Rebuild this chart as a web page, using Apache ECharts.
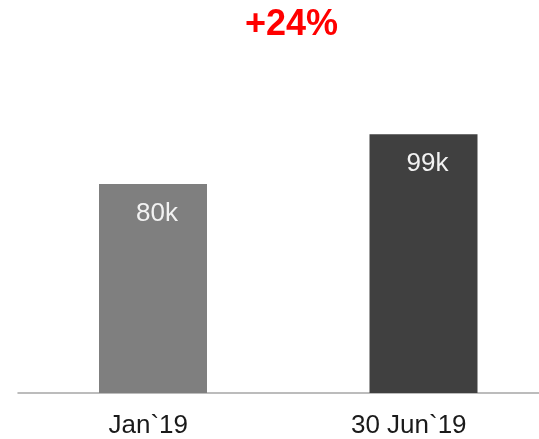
<!DOCTYPE html>
<html>
<head>
<meta charset="utf-8">
<script src="https://cdn.jsdelivr.net/npm/echarts@6/dist/echarts.min.js"></script>
<style>
  html, body { margin: 0; padding: 0; background: #ffffff; }
  #chart { width: 539px; height: 439px; }
</style>
</head>
<body>
<div id="chart"></div>
<script>
// Period labels and values (thousands)
var categories = ['Jan`19', '30 Jun`19'];
var values = [80, 99];
var barColors = ['#7f7f7f', '#404040'];
var growthLabel = '+24%';

var chart = echarts.init(document.getElementById('chart'), null, { renderer: 'canvas' });

var fontFamily = '"Liberation Sans", Arial, sans-serif';

chart.setOption({
  animation: false,
  backgroundColor: '#ffffff',
  title: {
    text: growthLabel,
    left: 245,
    top: 7,
    padding: 0,
    textStyle: { color: '#ff0000', fontSize: 36, fontWeight: 'bold', fontFamily: fontFamily }
  },
  grid: [
    // axis line and period labels
    { left: 18, right: 0, top: 1, bottom: 46 },
    // bars: categories sit on the grid edges (boundaryGap false)
    { left: 153, right: 115.5, top: 1, bottom: 46 }
  ],
  xAxis: [
    {
      type: 'category', gridIndex: 0, data: categories,
      axisLine: { show: true, lineStyle: { color: '#a6a6a6', width: 1.5 } },
      axisTick: { show: false },
      axisLabel: { color: '#1a1a1a', fontSize: 26, fontFamily: fontFamily, margin: 20 }
    },
    {
      type: 'category', gridIndex: 1, data: categories, boundaryGap: false,
      axisLine: { show: false }, axisTick: { show: false }, axisLabel: { show: false },
      splitLine: { show: false }
    }
  ],
  yAxis: [
    { type: 'value', gridIndex: 0, min: 0, max: 150, show: false },
    { type: 'value', gridIndex: 1, min: 0, max: 150, show: false }
  ],
  series: [{
    type: 'bar',
    xAxisIndex: 1,
    yAxisIndex: 1,
    clip: false,
    barWidth: 108,
    data: values.map(function (v, i) {
      return { value: v, itemStyle: { color: barColors[i] } };
    }),
    label: {
      show: true,
      position: 'insideTop',
      distance: 17,
      offset: [4, 0],
      color: '#f2f2f2',
      fontSize: 26,
      fontFamily: fontFamily,
      formatter: function (p) { return p.value + 'k'; }
    }
  }]
});
</script>
</body>
</html>
